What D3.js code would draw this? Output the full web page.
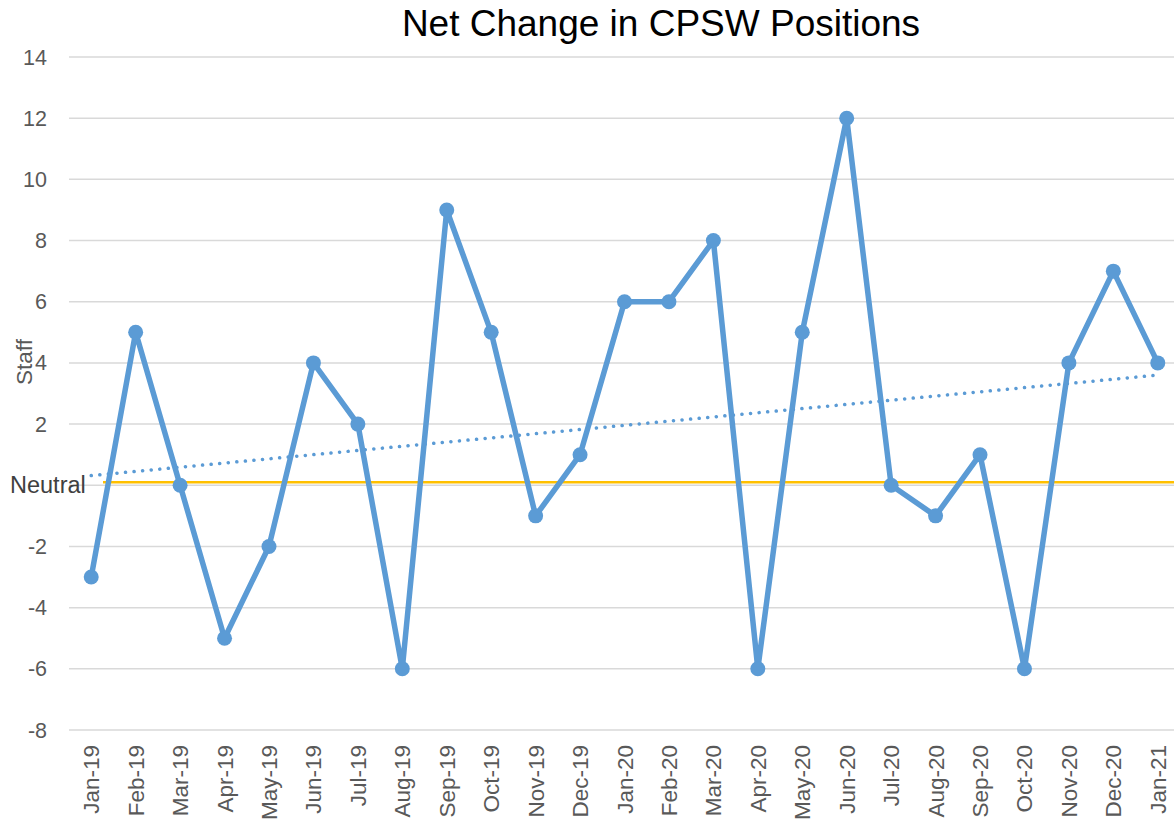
<!DOCTYPE html>
<html>
<head>
<meta charset="utf-8">
<script src="https://cdn.jsdelivr.net/npm/d3@7"></script>
<style>
  body { margin: 0; background: #fff; }
  svg { font-family: Arial, "Liberation Sans", sans-serif; display: block; }
</style>
</head>
<body>
<div id="chart"></div>
<script>
// chart data
const months = ["Jan-19", "Feb-19", "Mar-19", "Apr-19", "May-19", "Jun-19", "Jul-19", "Aug-19",
  "Sep-19", "Oct-19", "Nov-19", "Dec-19", "Jan-20", "Feb-20", "Mar-20", "Apr-20", "May-20",
  "Jun-20", "Jul-20", "Aug-20", "Sep-20", "Oct-20", "Nov-20", "Dec-20", "Jan-21"];
const netChange = [-3, 5, 0, -5, -2, 4, 2, -6, 9, 5, -1, 1, 6, 6, 8, -6, 5, 12, 0, -1, 1, -6, 4, 7, 4];
const yTicks = [-8, -6, -4, -2, 0, 2, 4, 6, 8, 10, 12, 14];
const neutralValue = 0.1;

const width = 1174;
const height = 826;

const svg = d3.select("#chart")
    .append("svg")
    .attr("width", width)
    .attr("height", height);

const x = d3.scalePoint()
    .domain(months)
    .range([69, 1180])
    .padding(0.5);

const y = d3.scaleLinear()
    .domain([-8, 14])
    .range([730, 57]);

// gridlines + y labels
svg.append("g")
    .selectAll("line")
    .data(yTicks)
    .enter()
    .append("line")
    .attr("x1", 69)
    .attr("x2", width)
    .attr("y1", d => y(d))
    .attr("y2", d => y(d))
    .attr("stroke", "#d9d9d9")
    .attr("stroke-width", 1.5);

svg.append("g")
    .selectAll("text")
    .data(yTicks.filter(d => d !== 0))
    .enter()
    .append("text")
    .attr("x", 47)
    .attr("y", d => y(d))
    .attr("dy", "0.35em")
    .attr("text-anchor", "end")
    .style("font-size", "21.5px")
    .style("fill", "#595959")
    .text(d => d);

// x labels
svg.append("g")
    .selectAll("text")
    .data(months)
    .enter()
    .append("text")
    .attr("transform", d => `translate(${x(d) + 8},745) rotate(-90)`)
    .attr("text-anchor", "end")
    .style("font-size", "22.5px")
    .style("fill", "#595959")
    .text(d => d);

// axis title
svg.append("text")
    .attr("transform", "translate(32,362) rotate(-90)")
    .attr("text-anchor", "middle")
    .style("font-size", "22.5px")
    .style("fill", "#595959")
    .text("Staff");

// neutral line
svg.append("line")
    .attr("x1", 103)
    .attr("x2", width)
    .attr("y1", y(neutralValue))
    .attr("y2", y(neutralValue))
    .attr("stroke", "#FFC000")
    .attr("stroke-width", 2.5);

svg.append("text")
    .attr("x", 10)
    .attr("y", y(0) + 8)
    .style("font-size", "23.5px")
    .style("fill", "#404040")
    .text("Neutral");

// linear trendline
const n = netChange.length;
const xm = d3.mean(d3.range(n));
const ym = d3.mean(netChange);
const slope = d3.sum(netChange, (v, i) => (i - xm) * (v - ym)) / d3.sum(d3.range(n), i => (i - xm) ** 2);
const trend = [0, n - 1].map(i => ({ m: months[i], v: ym + slope * (i - xm) }));

svg.append("path")
    .datum(trend)
    .attr("fill", "none")
    .attr("stroke", "#5B9BD5")
    .attr("stroke-width", 3.5)
    .attr("stroke-linecap", "round")
    .attr("stroke-dasharray", "0.1 8.5")
    .attr("d", d3.line().x(d => x(d.m)).y(d => y(d.v)));

// main series
const data = months.map((m, i) => ({ m: m, v: netChange[i] }));

svg.append("path")
    .datum(data)
    .attr("fill", "none")
    .attr("stroke", "#5B9BD5")
    .attr("stroke-width", 5.5)
    .attr("stroke-linejoin", "round")
    .attr("d", d3.line().x(d => x(d.m)).y(d => y(d.v)));

svg.append("g")
    .selectAll("circle")
    .data(data)
    .enter()
    .append("circle")
    .attr("cx", d => x(d.m))
    .attr("cy", d => y(d.v))
    .attr("r", 7.5)
    .attr("fill", "#5B9BD5");

// title
svg.append("text")
    .attr("x", 661)
    .attr("y", 36)
    .attr("text-anchor", "middle")
    .style("font-size", "37px")
    .style("fill", "#000")
    .text("Net Change in CPSW Positions");
</script>
</body>
</html>
